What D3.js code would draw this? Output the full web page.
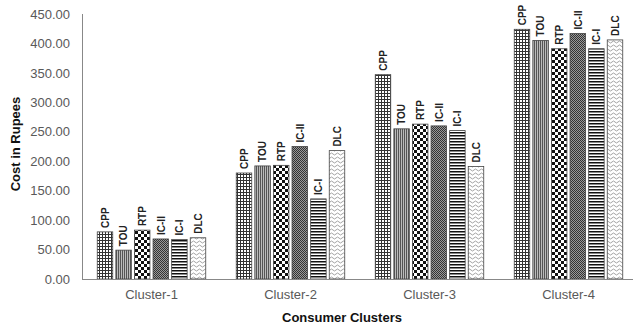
<!DOCTYPE html>
<html><head><meta charset="utf-8">
<script src="https://cdn.jsdelivr.net/npm/d3@7"></script>
<style>body{margin:0;background:#fff}svg{display:block;font-family:"Liberation Sans",Arial,sans-serif}</style>
</head><body><svg id="c" width="634" height="326"></svg>
<script>
const clusters = ["Cluster-1","Cluster-2","Cluster-3","Cluster-4"];
const schemes = ["CPP","TOU","RTP","IC-II","IC-I","DLC"];
const CPP  = [80, 180, 347, 424];
const TOU  = [49, 192, 255, 405];
const RTP  = [83, 193, 263, 391];
const ICII = [68, 225, 260, 417];
const ICI  = [67, 136, 252, 391];
const DLC  = [70, 218, 191, 406];
const yTicks = [0,50,100,150,200,250,300,350,400,450];
const seriesVals = {"CPP":CPP,"TOU":TOU,"RTP":RTP,"IC-II":ICII,"IC-I":ICI,"DLC":DLC};

const FF = "'Liberation Sans', Arial, sans-serif";
const svg = d3.select("#c");
const defs = svg.append("defs");
function pat(id,w,h,build){const p=defs.append("pattern").attr("id",id).attr("patternUnits","userSpaceOnUse").attr("width",w).attr("height",h);p.append("rect").attr("width",w).attr("height",h).attr("fill","#fff");build(p);}
pat("p-CPP",3,3,p=>{p.append("rect").attr("x",0).attr("y",0).attr("width",1).attr("height",3).attr("fill","#333");p.append("rect").attr("x",0).attr("y",0).attr("width",3).attr("height",1).attr("fill","#333");});
pat("p-TOU",2,2,p=>{p.select("rect").attr("fill","#bbb");p.append("rect").attr("x",0).attr("width",1).attr("height",2).attr("fill","#555");});
pat("p-RTP",6,6,p=>{p.append("rect").attr("x",0).attr("y",0).attr("width",3).attr("height",3).attr("fill","#111");p.append("rect").attr("x",3).attr("y",3).attr("width",3).attr("height",3).attr("fill","#111");});
pat("p-IC-II",2,2,p=>{p.select("rect").attr("fill","#999");p.append("rect").attr("x",0).attr("y",0).attr("width",1).attr("height",1).attr("fill","#333");p.append("rect").attr("x",1).attr("y",1).attr("width",1).attr("height",1).attr("fill","#333");});
pat("p-IC-I",3,3,p=>{p.append("rect").attr("x",0).attr("y",0).attr("width",3).attr("height",1.5).attr("fill","#111");});
pat("p-DLC",6,4,p=>{p.append("path").attr("d","M0,2 Q1.5,0 3,2 T6,2").attr("fill","none").attr("stroke","#999").attr("stroke-width",0.9);});

const mLeft=82, mBottom=279, mTop=14, band=139;
const x0 = d3.scaleBand().domain(clusters).range([mLeft,mLeft+band*4]);
const x1 = d3.scaleBand().domain(schemes).range([-54.25,54.25]).paddingInner(0.167);
const y = d3.scaleLinear().domain([0,450]).range([mBottom,mTop]);

const ya = svg.append("g").attr("transform",`translate(${mLeft},0)`).call(d3.axisLeft(y).tickValues(yTicks).tickFormat(d3.format(".2f")).tickSize(0).tickPadding(12));
ya.select(".domain").remove();
ya.attr("font-family",FF);
ya.selectAll("text").attr("font-size",13).attr("fill","#595959");

const g = svg.append("g").attr("font-family",FF);
clusters.forEach((c,i)=>{
  const cx = x0(c)+x0.bandwidth()/2;
  schemes.forEach(s=>{
    const v = seriesVals[s][i];
    const bx = cx + x1(s);
    g.append("rect").attr("x",bx).attr("y",y(v)).attr("width",x1.bandwidth()).attr("height",mBottom-y(v))
      .attr("fill",`url(#p-${s})`).attr("stroke","#444").attr("stroke-width",0.8);
    g.append("text").attr("transform",`translate(${bx+x1.bandwidth()/2+3.7},${y(v)-4}) rotate(-90)`)
      .attr("font-size",10).attr("font-weight","bold").attr("fill","#222").text(s);
  });
});

svg.append("line").attr("x1",mLeft+0.5).attr("x2",mLeft+0.5).attr("y1",mTop).attr("y2",mBottom).attr("stroke","#888");
const xa = svg.append("g").attr("transform",`translate(0,${mBottom})`).call(d3.axisBottom(x0).tickSize(0).tickPadding(11));
xa.select(".domain").remove();
xa.attr("font-family",FF);
svg.append("line").attr("x1",mLeft).attr("x2",633).attr("y1",mBottom+0.5).attr("y2",mBottom+0.5).attr("stroke","#888");
xa.selectAll("text").attr("font-size",13).attr("fill","#595959");

svg.append("text").attr("transform","translate(20,144) rotate(-90)").attr("text-anchor","middle").attr("font-family",FF).attr("font-size",13).attr("font-weight","bold").attr("fill","#111").text("Cost in Rupees");
svg.append("text").attr("x",342).attr("y",322).attr("text-anchor","middle").attr("font-family",FF).attr("font-size",13).attr("font-weight","bold").attr("fill","#111").text("Consumer Clusters");
</script></body></html>
